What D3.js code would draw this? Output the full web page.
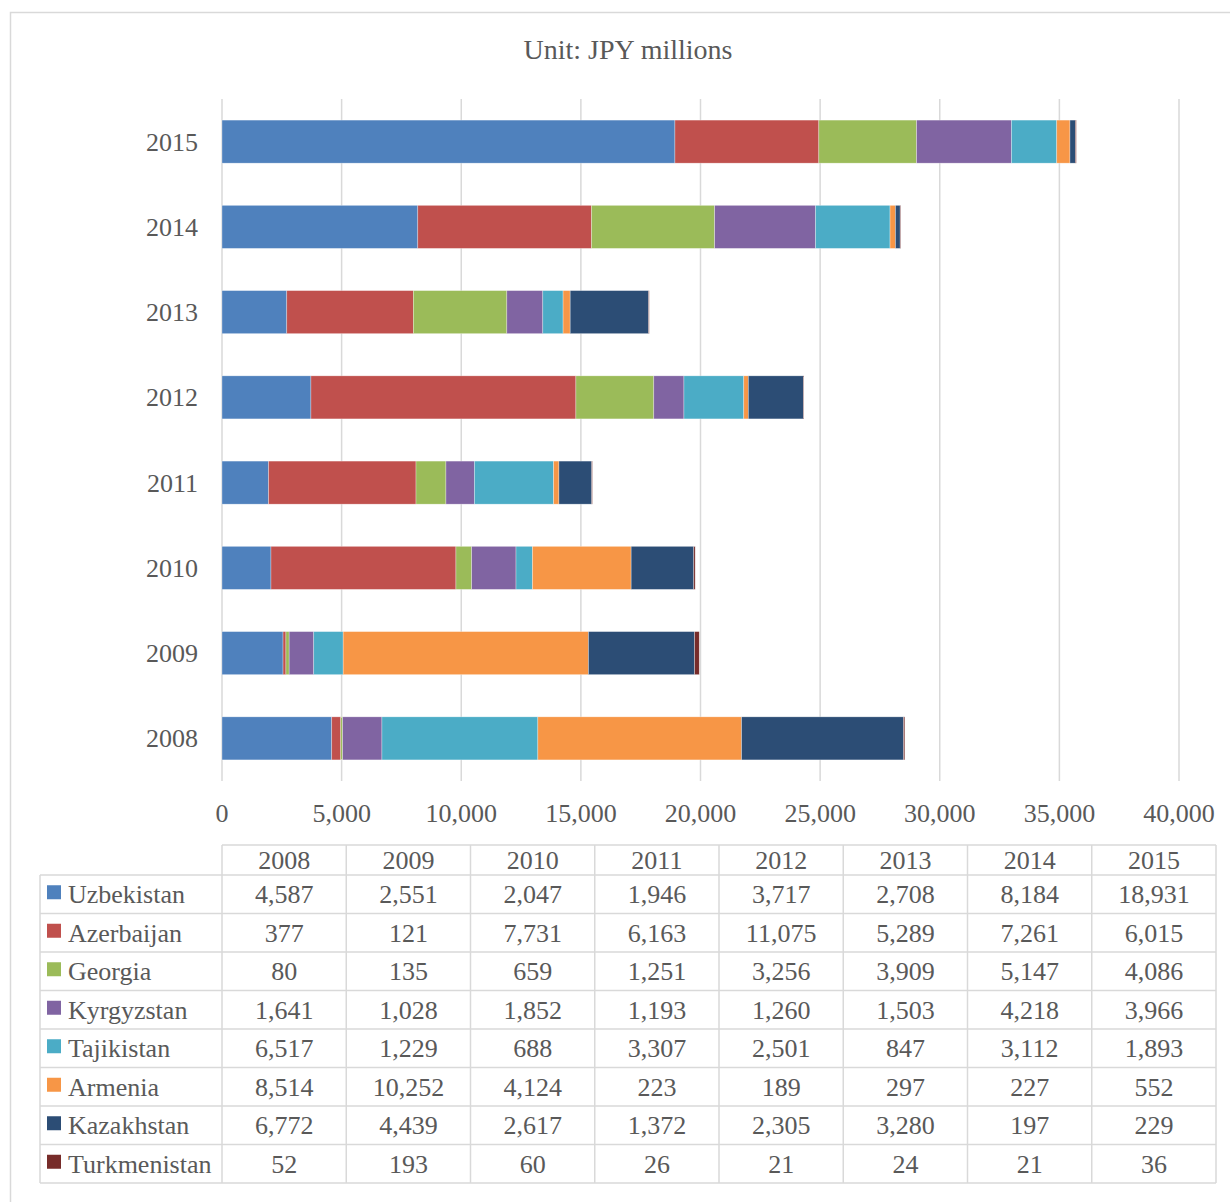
<!DOCTYPE html>
<html>
<head>
<meta charset="utf-8">
<script src="https://cdn.jsdelivr.net/npm/d3@7"></script>
<style>
	body { margin: 0; background: #fff; }
	text { font-family: "Liberation Serif", "Times New Roman", serif; fill: #595959; }
</style>
</head>
<body>
<svg></svg>
<script>
// chart data
var years = ['2008', '2009', '2010', '2011', '2012', '2013', '2014', '2015'];
var countries = ['Uzbekistan', 'Azerbaijan', 'Georgia', 'Kyrgyzstan', 'Tajikistan', 'Armenia', 'Kazakhstan', 'Turkmenistan'];
var colors = ['#4f81bd', '#c0504d', '#9bbb59', '#8064a2', '#4bacc6', '#f79646', '#2c4d75', '#772c2a'];

var uzbekistan   = [4587, 2551, 2047, 1946, 3717, 2708, 8184, 18931];
var azerbaijan   = [377, 121, 7731, 6163, 11075, 5289, 7261, 6015];
var georgia      = [80, 135, 659, 1251, 3256, 3909, 5147, 4086];
var kyrgyzstan   = [1641, 1028, 1852, 1193, 1260, 1503, 4218, 3966];
var tajikistan   = [6517, 1229, 688, 3307, 2501, 847, 3112, 1893];
var armenia      = [8514, 10252, 4124, 223, 189, 297, 227, 552];
var kazakhstan   = [6772, 4439, 2617, 1372, 2305, 3280, 197, 229];
var turkmenistan = [52, 193, 60, 26, 21, 24, 21, 36];

var xTicks = [0, 5000, 10000, 15000, 20000, 25000, 30000, 35000, 40000];

// some layout settings
var CONF = {
	width: 1230,
	height: 1202,
	left: 222,
	right: 1179,
	top: 99,
	bottom: 781,
	tableTop: 845,
	headH: 30,
	rowH: 38.5,
	tableLeft: 40,
	tableRight: 1216,
	size: 26,
	grid: '#d9d9d9'
};

var series = [uzbekistan, azerbaijan, georgia, kyrgyzstan, tajikistan, armenia, kazakhstan, turkmenistan];

// rows for the stack: one object per year
var rows = years.map(function(y, i) {
	var r = { year: y };
	countries.forEach(function(c, j) { r[c] = series[j][i]; });
	return r;
});
var stacked = d3.stack().keys(countries)(rows);

var svg = d3.select('svg')
	.attr('width', CONF.width)
	.attr('height', CONF.height);

// outer frame
svg.append('rect')
	.attr('x', 10.5).attr('y', 12.5)
	.attr('width', 1240).attr('height', 1210)
	.style('fill', 'none')
	.style('stroke', CONF.grid)
	.style('stroke-width', 1.5);

var x = d3.scaleLinear().domain([0, 40000]).range([CONF.left, CONF.right]);
var y = d3.scaleBand().domain(years.slice().reverse())
	.range([CONF.top, CONF.bottom])
	.paddingInner(0.495)
	.paddingOuter(0.2475);

// title
svg.append('text')
	.attr('x', 628).attr('y', 59)
	.attr('text-anchor', 'middle')
	.style('font-size', '28px')
	.text('Unit: JPY millions');

// vertical grid lines
svg.append('g').selectAll('line')
	.data(xTicks)
	.enter()
	.append('line')
		.attr('x1', function(d) { return x(d); })
		.attr('x2', function(d) { return x(d); })
		.attr('y1', CONF.top).attr('y2', CONF.bottom)
		.style('stroke', CONF.grid)
		.style('stroke-width', 1.5);

// x tick labels
svg.append('g').selectAll('text')
	.data(xTicks)
	.enter()
	.append('text')
		.attr('x', function(d) { return x(d); })
		.attr('y', 822)
		.attr('text-anchor', 'middle')
		.style('font-size', CONF.size + 'px')
		.text(d3.format(','));

// category labels
svg.append('g').selectAll('text')
	.data(years)
	.enter()
	.append('text')
		.attr('x', 198)
		.attr('y', function(d) { return y(d) + y.bandwidth() / 2; })
		.attr('dy', '0.35em')
		.attr('text-anchor', 'end')
		.style('font-size', CONF.size + 'px')
		.text(function(d) { return d; });

// the stacked bars
var layers = svg.append('g').selectAll('g.layer')
	.data(stacked)
	.enter()
	.append('g')
		.attr('class', 'layer')
		.style('fill', function(d, i) { return colors[i]; });

layers.selectAll('rect')
	.data(function(d) { return d; })
	.enter()
	.append('rect')
		.attr('x', function(d) { return x(d[0]); })
		.attr('y', function(d) { return y(d.data.year); })
		.attr('width', function(d) { return x(d[1]) - x(d[0]); })
		.attr('height', y.bandwidth())
		.style('stroke', '#fff')
		.style('stroke-opacity', 0.5)
		.style('stroke-width', 0.6);

// data table underneath
var col = d3.scaleBand().domain(years).range([CONF.left, CONF.tableRight]);
var rowTop = function(i) { return CONF.tableTop + CONF.headH + i * CONF.rowH; };
var tableBottom = rowTop(countries.length);

var tbl = svg.append('g')
	.style('stroke', CONF.grid)
	.style('stroke-width', 1.5);

// header horizontal line
tbl.append('line')
	.attr('x1', CONF.left).attr('x2', CONF.tableRight)
	.attr('y1', CONF.tableTop).attr('y2', CONF.tableTop);

// row lines
tbl.selectAll('line.row')
	.data(d3.range(countries.length + 1))
	.enter()
	.append('line')
		.attr('class', 'row')
		.attr('x1', CONF.tableLeft).attr('x2', CONF.tableRight)
		.attr('y1', function(d) { return rowTop(d); })
		.attr('y2', function(d) { return rowTop(d); });

// column lines
tbl.selectAll('line.col')
	.data(years.concat(['end']))
	.enter()
	.append('line')
		.attr('class', 'col')
		.attr('x1', function(d) { return d == 'end' ? CONF.tableRight : col(d); })
		.attr('x2', function(d) { return d == 'end' ? CONF.tableRight : col(d); })
		.attr('y1', CONF.tableTop).attr('y2', tableBottom);

tbl.append('line')
	.attr('x1', CONF.tableLeft).attr('x2', CONF.tableLeft)
	.attr('y1', rowTop(0)).attr('y2', tableBottom);

// header years
svg.append('g').selectAll('text')
	.data(years)
	.enter()
	.append('text')
		.attr('x', function(d) { return col(d) + col.bandwidth() / 2; })
		.attr('y', CONF.tableTop + CONF.headH / 2)
		.attr('dy', '0.35em')
		.attr('text-anchor', 'middle')
		.style('font-size', CONF.size + 'px')
		.text(function(d) { return d; });

// legend column + values
var trows = svg.append('g').selectAll('g.trow')
	.data(countries)
	.enter()
	.append('g')
		.attr('class', 'trow')
		.attr('transform', function(d, i) { return 'translate(0,' + (rowTop(i) + CONF.rowH / 2) + ')'; });

trows.append('rect')
	.attr('x', 47).attr('y', -9)
	.attr('width', 14).attr('height', 14)
	.style('fill', function(d, i) { return colors[i]; });

trows.append('text')
	.attr('x', 68).attr('y', 0)
	.attr('dy', '0.35em')
	.style('font-size', CONF.size + 'px')
	.text(function(d) { return d; });

trows.selectAll('text.val')
	.data(function(d, i) { return series[i]; })
	.enter()
	.append('text')
		.attr('class', 'val')
		.attr('x', function(d, i) { return col(years[i]) + col.bandwidth() / 2; })
		.attr('y', 0)
		.attr('dy', '0.35em')
		.attr('text-anchor', 'middle')
		.style('font-size', CONF.size + 'px')
		.text(d3.format(','));
</script>
</body>
</html>
